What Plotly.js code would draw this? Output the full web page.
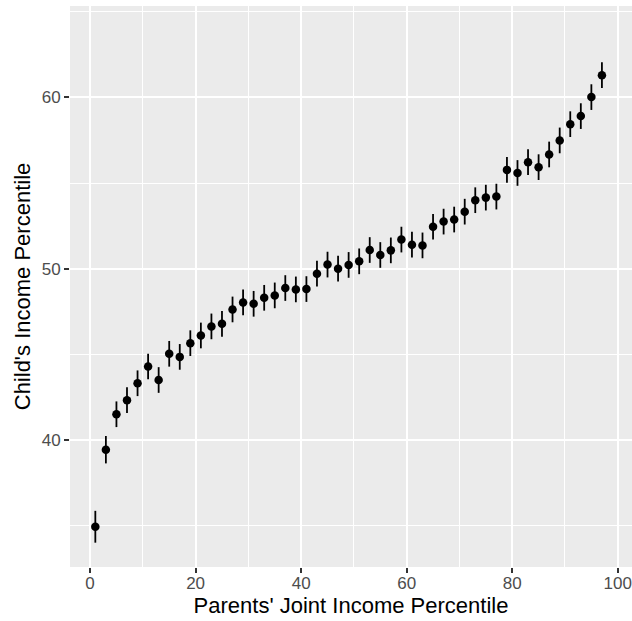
<!DOCTYPE html>
<html>
<head>
<meta charset="utf-8">
<script src="https://cdn.plot.ly/plotly-3.0.1.min.js"></script>
<style>html,body{margin:0;padding:0;background:#fff}#chart{width:632px;height:621px}</style>
</head>
<body>
<div id="chart"></div>
<script>
const parentPct = [1,3,5,7,9,11,13,15,17,19,21,23,25,27,29,31,33,35,37,39,41,43,45,47,49,51,53,55,57,59,61,63,65,67,69,71,73,75,77,79,81,83,85,87,89,91,93,95,97];
const childPct = [34.93,39.43,41.5,42.32,43.31,44.29,43.5,45.03,44.85,45.65,46.1,46.63,46.78,47.62,48.03,47.95,48.3,48.44,48.87,48.79,48.81,49.71,50.24,50.0,50.22,50.43,51.09,50.8,51.07,51.7,51.4,51.36,52.45,52.75,52.87,53.33,54.0,54.15,54.21,55.77,55.59,56.22,55.93,56.67,57.49,58.44,58.91,60.02,61.3];
const errHalf = [0.93,0.8,0.75,0.75,0.75,0.75,0.75,0.75,0.75,0.75,0.75,0.75,0.75,0.75,0.75,0.75,0.75,0.75,0.75,0.75,0.75,0.75,0.75,0.75,0.75,0.75,0.75,0.75,0.75,0.75,0.75,0.75,0.75,0.75,0.75,0.75,0.75,0.75,0.75,0.75,0.75,0.75,0.75,0.75,0.75,0.75,0.75,0.75,0.75];
const xTicks = [0,20,40,60,80,100];
const yTicks = [40,50,60];

const trace = {
  x: parentPct, y: childPct, type: 'scatter', mode: 'markers',
  marker: {color: '#000000', size: 8.5},
  error_y: {type: 'data', array: errHalf, visible: true, color: '#000000', thickness: 1.8, width: 0},
  hoverinfo: 'x+y'
};

const font = {family: 'Liberation Sans, Arial, sans-serif'};
const layout = {
  width: 632, height: 621,
  margin: {l: 70, r: 0, t: 6, b: 54, pad: 0},
  paper_bgcolor: '#ffffff', plot_bgcolor: '#EBEBEB',
  showlegend: false,
  font: font,
  xaxis: {
    range: [-3.8, 102.7], tickvals: xTicks, ticktext: xTicks.map(String),
    showgrid: true, gridcolor: '#ffffff', gridwidth: 2,
    minor: {dtick: 10, tick0: 0, showgrid: true, gridcolor: '#ffffff', gridwidth: 1, ticks: ''},
    zeroline: false, showline: false,
    ticks: 'outside', ticklen: 5, tickwidth: 2, tickcolor: '#333333',
    ticklabelstandoff: -4,
    tickfont: {family: font.family, size: 17, color: '#4D4D4D'},
    title: {text: "Parents' Joint Income Percentile", font: {family: font.family, size: 22, color: '#000000'}, standoff: 5},
    automargin: false
  },
  yaxis: {
    range: [32.58, 65.34], tickvals: yTicks, ticktext: yTicks.map(String),
    showgrid: true, gridcolor: '#ffffff', gridwidth: 2,
    minor: {dtick: 5, tick0: 0, showgrid: true, gridcolor: '#ffffff', gridwidth: 1, ticks: ''},
    zeroline: false, showline: false,
    ticks: 'outside', ticklen: 5, tickwidth: 2, tickcolor: '#333333',
    tickfont: {family: font.family, size: 17, color: '#4D4D4D'},
    title: {text: "Child's Income Percentile", font: {family: font.family, size: 22, color: '#000000'}, standoff: 4},
    automargin: false
  }
};

Plotly.newPlot('chart', [trace], layout, {displayModeBar: false, staticPlot: true});
</script>
</body>
</html>
